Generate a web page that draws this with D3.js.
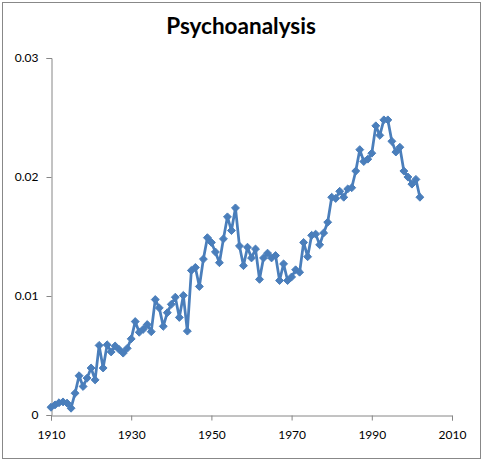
<!DOCTYPE html>
<html><head><meta charset="utf-8">
<script src="https://cdn.jsdelivr.net/npm/d3@7"></script>
<style>body{margin:0;background:#fff;}svg{display:block;}</style>
</head><body>
<script>
const title = "Psychoanalysis";
const years = d3.range(1910, 2003);
const values = [
0.00065,0.00085,0.00103,0.00110,0.00100,0.00057,0.00183,0.00330,0.00240,0.00310,
0.00395,0.00295,0.00585,0.00395,0.00590,0.00530,0.00580,0.00550,0.00520,0.00560,
0.00640,0.00785,0.00695,0.00720,0.00760,0.00700,0.00970,0.00900,0.00745,0.00860,
0.00930,0.00990,0.00820,0.01005,0.00705,0.01215,0.01240,0.01080,0.01310,0.01490,
0.01450,0.01370,0.01280,0.01480,0.01665,0.01550,0.01740,0.01420,0.01255,0.01410,
0.01320,0.01395,0.01140,0.01320,0.01360,0.01320,0.01340,0.01130,0.01270,0.01130,
0.01160,0.01220,0.01200,0.01450,0.01330,0.01510,0.01520,0.01430,0.01530,0.01620,
0.01830,0.01820,0.01880,0.01830,0.01900,0.01910,0.02050,0.02230,0.02130,0.02150,
0.02200,0.02430,0.02350,0.02480,0.02480,0.02300,0.02210,0.02250,0.02050,0.02000,
0.01940,0.01980,0.01830];
const xTicks = [1910, 1930, 1950, 1970, 1990, 2010];
const yTicks = [0, 0.01, 0.02, 0.03];
const yTickLabels = ["0", "0.01", "0.02", "0.03"];

const W = 483, H = 461;
const svg = d3.select("body").append("svg").attr("width", W).attr("height", H);
svg.append("rect").attr("x", 2.5).attr("y", 2.5).attr("width", W - 5).attr("height", H - 5)
  .attr("fill", "#fff").attr("stroke", "#888").attr("stroke-width", 1);

const x = d3.scaleLinear().domain([1910, 2010]).range([51, 452]);
const y = d3.scaleLinear().domain([0, 0.03]).range([415, 58]);

svg.append("text").attr("x", 241).attr("y", 34).attr("text-anchor", "middle")
  .attr("font-family", "Lato, 'Open Sans', sans-serif").attr("font-weight", "bold")
  .attr("font-size", 22.5).attr("fill", "#000").text(title);

const font = "Lato, 'Open Sans', sans-serif";
const xAxis = svg.append("g").attr("transform", "translate(0,415.5)")
  .call(d3.axisBottom(x).tickValues(xTicks).tickFormat(d3.format("d")).tickSize(5).tickPadding(10));
const yAxis = svg.append("g").attr("transform", "translate(51.5,0)")
  .call(d3.axisLeft(y).tickValues(yTicks).tickFormat((d, i) => yTickLabels[i]).tickSize(5).tickPadding(8));
[xAxis, yAxis].forEach(g => {
  g.select(".domain").attr("stroke", "#868686");
  g.selectAll(".tick line").attr("stroke", "#868686");
  g.selectAll("text").attr("font-family", font).attr("font-size", 12).attr("fill", "#000");
});

const data = years.map((yr, i) => ({yr, v: values[i]}));
const line = d3.line().x(d => x(d.yr)).y(d => y(d.v));
svg.append("path").datum(data).attr("d", line).attr("fill", "none")
  .attr("stroke", "#4a7ebb").attr("stroke-width", 2.75).attr("stroke-linejoin", "round");

const sym = d3.symbol().type(d3.symbolDiamond2).size(40);
svg.append("g").selectAll("path").data(data).join("path")
  .attr("transform", d => `translate(${x(d.yr)},${y(d.v)})`)
  .attr("d", sym).attr("fill", "#4a7ebb").attr("stroke", "#4a7ebb").attr("stroke-width", 1);
</script>
</body></html>
